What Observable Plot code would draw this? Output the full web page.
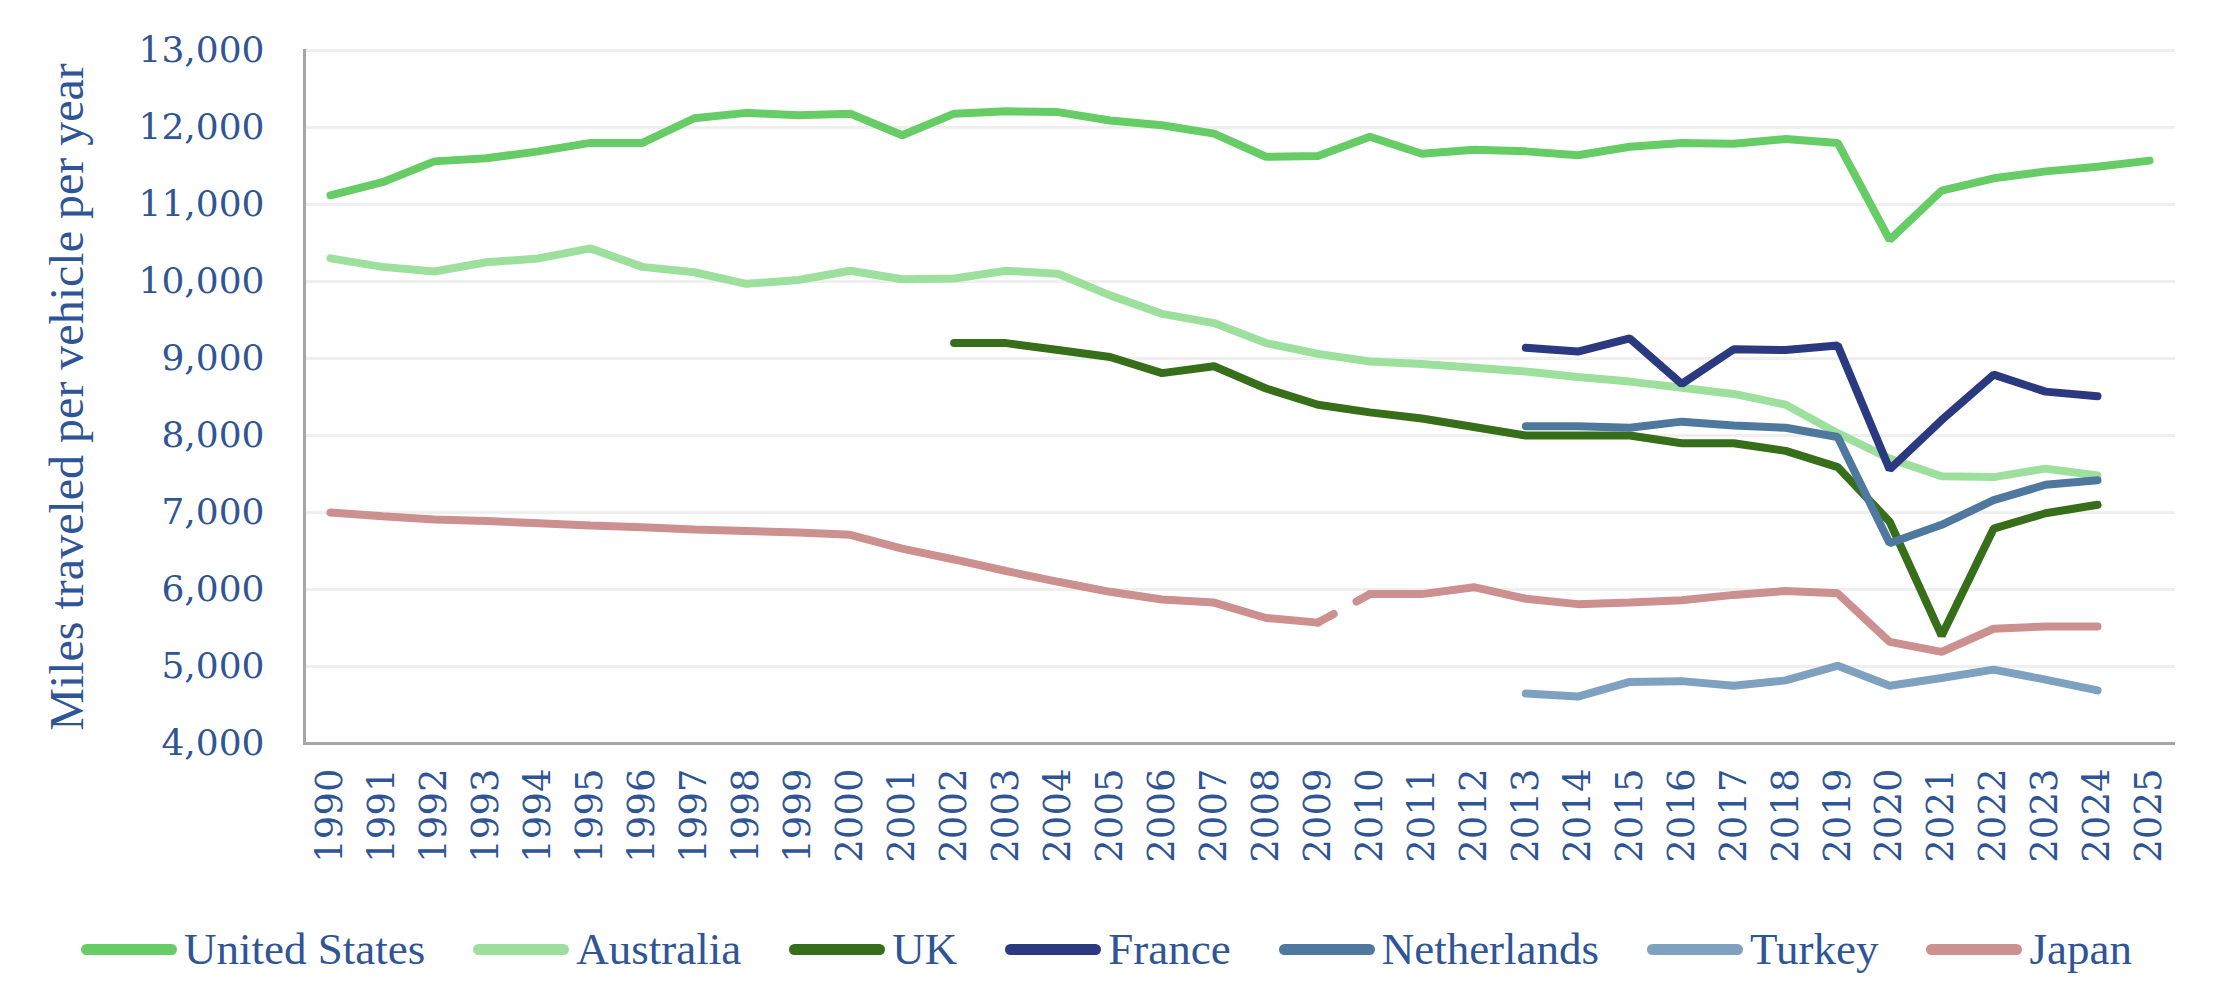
<!DOCTYPE html>
<html>
<head>
<meta charset="utf-8">
<script src="https://cdn.jsdelivr.net/npm/d3@7"></script>
<script src="https://cdn.jsdelivr.net/npm/@observablehq/plot@0.6"></script>
<style>
  body { margin: 0; background: #fff; }
  #chart { width: 2213px; }
  #legend {
    display: flex; justify-content: center; align-items: center;
    font-family: "Liberation Serif", "Times New Roman", serif;
    font-size: 45px; color: #2F5597; height: 50px; margin-top: 44px;
  }
  .item { display: flex; align-items: center; margin: 0 24px; }
  .sw { width: 96px; height: 11px; border-radius: 6px; margin-right: 7px; }
</style>
</head>
<body>
<div id="chart"></div>
<div id="legend"></div>
<script>
const years = [1990,1991,1992,1993,1994,1995,1996,1997,1998,1999,2000,2001,2002,2003,2004,2005,2006,2007,2008,2009,2010,2011,2012,2013,2014,2015,2016,2017,2018,2019,2020,2021,2022,2023,2024,2025];
const yTicks = [4000,5000,6000,7000,8000,9000,10000,11000,12000,13000];
const seriesNames = ["United States","Australia","UK","France","Netherlands","Turkey","Japan"];
const seriesColors = ["#66CC66","#9DE09D","#376E19","#2B3A80","#4F789F","#7FA1C0","#CC9090"];
const yLabel = "Miles traveled per vehicle per year";

const unitedStates = [11120,11290,11560,11600,11690,11800,11800,12120,12190,12160,12180,11900,12180,12210,12200,12090,12030,11920,11620,11630,11880,11660,11710,11690,11640,11750,11800,11790,11850,11800,10540,11180,11340,11430,11490,11570];
const australia = [10300,10190,10130,10250,10300,10430,10190,10120,9970,10020,10140,10030,10040,10140,10100,9820,9580,9460,9200,9060,8960,8930,8880,8830,8760,8700,8620,8540,8400,8030,7700,7470,7460,7570,7480,null];
const uk = [null,null,null,null,null,null,null,null,null,null,null,null,9200,9200,9110,9020,8810,8900,8610,8400,8300,8220,8110,8000,8000,8000,7900,7900,7800,7590,6880,5400,6790,6990,7100,null];
const france = [null,null,null,null,null,null,null,null,null,null,null,null,null,null,null,null,null,null,null,null,null,null,null,9140,9090,9260,8670,9120,9110,9170,7560,8200,8790,8570,8510,null];
const netherlands = [null,null,null,null,null,null,null,null,null,null,null,null,null,null,null,null,null,null,null,null,null,null,null,8120,8120,8100,8180,8130,8100,7980,6600,6840,7160,7360,7420,null];
const turkey = [null,null,null,null,null,null,null,null,null,null,null,null,null,null,null,null,null,null,null,null,null,null,null,4650,4610,4800,4810,4750,4820,5010,4750,4850,4960,4830,4690,null];
const japan = [7000,6950,6910,6890,6860,6830,6810,6780,6760,6740,6710,6530,6390,6240,6100,5970,5870,5830,5630,5570,5940,5940,6030,5880,5810,5830,5860,5930,5980,5950,5320,5190,5490,5520,5520,null];
const japanBreak = [2009, 2010];

const seriesValues = [unitedStates, australia, uk, france, netherlands, turkey, japan];

const table = [];
seriesValues.forEach((vals, i) => {
  vals.forEach((v, j) => {
    if (v == null) return;
    const name = seriesNames[i];
    let key = name;
    if (name === "Japan") key = years[j] <= japanBreak[0] ? "Japan-a" : "Japan-b";
    table.push({series: name, key, year: years[j], value: v});
  });
});
const bridge = table.filter(d => d.series === "Japan" && japanBreak.includes(d.year));

const W = 2213, H = 880;
const textColor = "#2F5597";

const chart = Plot.plot({
  width: W,
  height: H,
  marginLeft: 304,
  marginRight: 38,
  marginTop: 50,
  marginBottom: H - 743,
  style: {fontFamily: "'DejaVu Serif', serif", color: textColor, background: "#fff", overflow: "visible"},
  x: {type: "point", domain: years, padding: 0.5},
  y: {domain: [4000, 13000]},
  color: {domain: seriesNames, range: seriesColors},
  marks: [
    Plot.gridY(yTicks, {stroke: "#EFEFEF", strokeOpacity: 1, strokeWidth: 3}),
    Plot.ruleY([4000], {stroke: "#A6A6A6", strokeWidth: 3}),
    Plot.frame({anchor: "left", stroke: "#A6A6A6", strokeWidth: 3}),
    Plot.axisY(yTicks, {tickSize: 0, tickPadding: 40, fontSize: 36, tickFormat: d3.format(","), label: null, fill: textColor}),
    Plot.axisX({tickRotate: -90, tickSize: 0, tickPadding: 25, fontSize: 37, tickFormat: d => String(d), label: null, fill: textColor}),
    Plot.text([yLabel], {frameAnchor: "left", textAnchor: "middle", rotate: -90, dx: -237, fontSize: 48, fontFamily: "'Liberation Serif', serif", fill: textColor}),
    Plot.line(table, {x: "year", y: "value", z: "key", stroke: "series", strokeWidth: 8, strokeLinecap: "round", strokeLinejoin: "miter"}),
    Plot.line(bridge, {x: "year", y: "value", stroke: "series", strokeWidth: 8, strokeLinecap: "round", strokeDasharray: "18,26,200"})
  ]
});
document.getElementById("chart").appendChild(chart);

const legend = document.getElementById("legend");
seriesNames.forEach((n, i) => {
  const it = document.createElement("div");
  it.className = "item";
  const sw = document.createElement("div");
  sw.className = "sw";
  sw.style.background = seriesColors[i];
  const t = document.createElement("span");
  t.textContent = n;
  it.appendChild(sw); it.appendChild(t);
  legend.appendChild(it);
});
</script>
</body>
</html>
